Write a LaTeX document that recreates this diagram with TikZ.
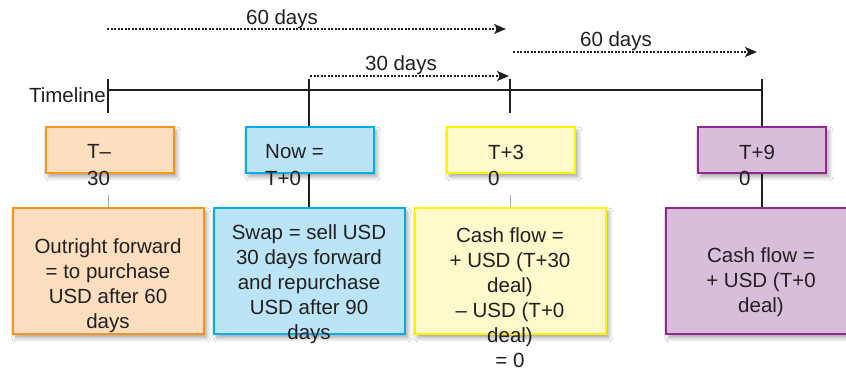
\documentclass[tikz,border=0pt]{standalone}
\usepackage{fontspec}
\setmainfont{Liberation Sans}
\usetikzlibrary{shadows,shadows.blur,arrows.meta,backgrounds}
\definecolor{txtc}{HTML}{231F20}
\definecolor{orF}{HTML}{FDDFBF}
\definecolor{orD}{HTML}{F7941D}
\definecolor{blF}{HTML}{BBE4F7}
\definecolor{blD}{HTML}{00AEEF}
\definecolor{yeF}{HTML}{FFF9CC}
\definecolor{yeD}{HTML}{FFF200}
\definecolor{puF}{HTML}{D9BEDC}
\definecolor{puD}{HTML}{92278F}
\begin{document}
\begin{tikzpicture}[x=1pt,y=-1pt,
  txt/.style={font=\fontsize{20.5}{25}\selectfont, text=txtc, inner sep=0pt, align=center},
  toptxt/.style={font=\fontsize{20.5}{26.5}\selectfont, text=txtc, inner sep=0pt, align=left, anchor=north west},
  box/.style 2 args={fill=#1, draw=#2, line width=1.8pt, inner sep=0pt, anchor=north west,
    blur shadow={shadow xshift=3pt, shadow yshift=-4pt, shadow blur radius=4pt, shadow blur steps=8, shadow opacity=35}},
  topbox/.style 2 args={box={#1}{#2}, minimum width=128pt, minimum height=46pt},
  lowbox/.style 2 args={box={#1}{#2}, minimum width=191pt, minimum height=126pt},
  darr/.style={line width=1.7pt, txtc, dash pattern=on 2.2pt off 1.3pt, -{Stealth[length=12pt,width=10pt,inset=3pt]}},
  tline/.style={line width=1.8pt, txtc},
  fline/.style={line width=1pt, black!35}]
\useasboundingbox (0,0) rectangle (846,370);

% timeline coordinates
\coordinate (t1) at (108,79);
\coordinate (t2) at (309,79);
\coordinate (t3) at (510,79);
\coordinate (t4) at (762,79);
\coordinate (l1s) at (108,90);
\coordinate (l1e) at (762,90);

% boxes
\node[topbox={orF}{orD}] (topA) at (45,126) {};
\node[topbox={blF}{blD}] (topB) at (245,126) {};
\node[topbox={yeF}{yeD}] (topC) at (446,126) {};
\node[topbox={puF}{puD}] (topD) at (697,126) {};
\node[lowbox={orF}{orD}] (lowA) at (12,207) {};
\node[lowbox={blF}{blD}] (lowB) at (213,207) {};
\node[lowbox={yeF}{yeD}] (lowC) at (414,207) {};
\node[lowbox={puF}{puD}] (lowD) at (665,207) {};

\begin{pgfonlayer}{background}
\fill[white] (0,0) rectangle (846,370);
\draw[tline] (l1s) -- (l1e);
\draw[tline] (t1) -- (t1 |- 0,113);
\draw[tline] (t3) -- (t3 |- 0,113);
\draw[tline] (t2) -- (t2 |- lowB.north);
\draw[tline] (t4) -- (t4 |- lowD.north);
\draw[fline] (lowA.north -| t1) -- ++(0,-12);
\draw[fline] (lowC.north -| t3) -- ++(0,-12);
\end{pgfonlayer}

% top texts
\node[toptxt] (tA) at (87,144.5) {T–\\30};
\node[toptxt] (tB) at (265,144.5) {Now =\\T+0};
\node[toptxt] (tC) at (488,144.5) {T+3\\0};
\node[toptxt] (tD) at (739,144.5) {T+9\\0};

% lower texts
\node[txt] (xA) at (108,286) {Outright forward\\= to purchase\\USD after 60\\days};
\node[txt] (xB) at (309,284.5) {Swap = sell USD\\30 days forward\\and repurchase\\USD after 90\\days};
\node[txt] (xC) at (510,297.5) {Cash flow =\\+ USD (T+30\\deal)\\– USD (T+0\\deal)\\= 0};
\node[txt] (xD) at (761,282) {Cash flow =\\+ USD (T+0\\deal)};

% timeline label
\node[txt, anchor=east] (tl) at (106,95) {Timeline};

% dotted arrows
\coordinate (a1s) at (107,29);
\coordinate (a1e) at (506,29);
\coordinate (a2s) at (310,76);
\coordinate (a2e) at (509,76);
\coordinate (a3s) at (513,52);
\coordinate (a3e) at (757,52);
\draw[darr] (a1s) -- (a1e);
\draw[darr] (a2s) -- (a2e);
\draw[darr] (a3s) -- (a3e);
\node[txt] (d1) at (282,19) {60 days};
\node[txt] (d2) at (401,65) {30 days};
\node[txt] (d3) at (616,41) {60 days};
\end{tikzpicture}
\end{document}
